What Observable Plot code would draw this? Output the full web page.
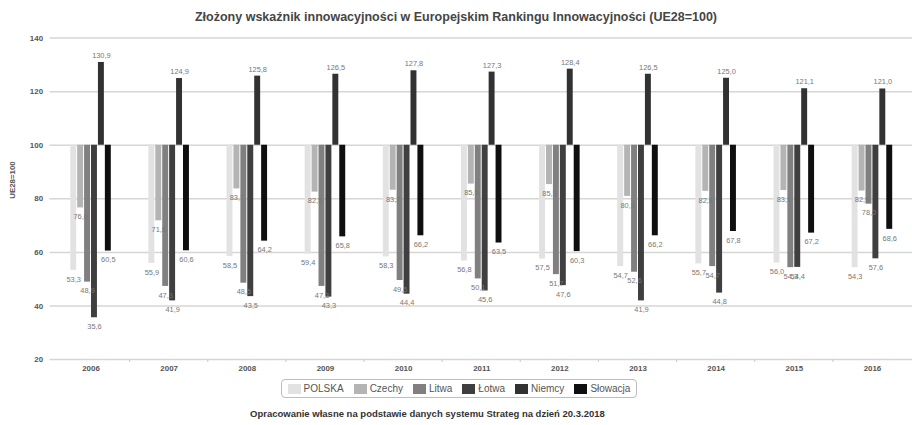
<!DOCTYPE html>
<html lang="pl">
<head>
<meta charset="utf-8">
<script src="https://cdn.jsdelivr.net/npm/d3@7"></script>
<script src="https://cdn.jsdelivr.net/npm/@observablehq/plot@0.6"></script>
<style>
  html, body { margin: 0; padding: 0; background: #fff; overflow: hidden; }
  #chart { position: relative; width: 912px; height: 425px; overflow: hidden; background: #fff;
           font-family: "Liberation Sans", Arial, sans-serif; }
  #title { position: absolute; left: 0; width: 912px; top: 10px; text-align: center;
           font-size: 12.5px; font-weight: bold; color: #454545; white-space: nowrap; }
  #plot { position: absolute; left: 0; top: 0; }
  #legend { position: absolute; left: 281px; top: 379px; width: 356px; height: 19px;
            border: 1px solid #bdbdbd; border-radius: 4px; box-sizing: border-box;
            display: flex; align-items: center; justify-content: center; gap: 10px;
            font-size: 10px; color: #555; }
  #legend .item { display: flex; align-items: center; gap: 3px; }
  #legend .sw { width: 13px; height: 10px; display: inline-block; }
  #caption { position: absolute; left: 250px; top: 408px; font-size: 9.5px; font-weight: bold;
             color: #333; white-space: nowrap; }
</style>
</head>
<body>
<div id="chart">
  <div id="plot"></div>
  <div id="title">Złożony wskaźnik innowacyjności w Europejskim Rankingu Innowacyjności (UE28=100)</div>
  <div id="legend"></div>
  <div id="caption">Opracowanie własne na podstawie danych systemu Strateg na dzień 20.3.2018</div>
</div>
<script>
// Summary Innovation Index, EU28 = 100
const years = [2006, 2007, 2008, 2009, 2010, 2011, 2012, 2013, 2014, 2015, 2016];
const series = ["POLSKA", "Czechy", "Litwa", "Łotwa", "Niemcy", "Słowacja"];

const polska   = [53.3, 55.9, 58.5, 59.4, 58.3, 56.8, 57.5, 54.7, 55.7, 56.0, 54.3];
const czechy   = [76.6, 71.8, 83.7, 82.5, 83.2, 85.5, 85.3, 80.9, 82.8, 83.1, 82.9];
const litwa    = [48.9, 47.3, 48.5, 47.3, 49.5, 50.1, 51.7, 52.6, 54.7, 54.3, 78.0];
const lotwa    = [35.6, 41.9, 43.5, 43.3, 44.4, 45.6, 47.6, 41.9, 44.8, 54.4, 57.6];
const niemcy   = [130.9, 124.9, 125.8, 126.5, 127.8, 127.3, 128.4, 126.5, 125.0, 121.1, 121.0];
const slowacja = [60.5, 60.6, 64.2, 65.8, 66.2, 63.5, 60.3, 66.2, 67.8, 67.2, 68.6];

const yTicks = [20, 40, 60, 80, 100, 120, 140];
const baseline = 100;
const colors = ["#e2e2e2", "#b4b4b4", "#808080", "#3f3f3f", "#323232", "#0f0f0f"];

const values = [polska, czechy, litwa, lotwa, niemcy, slowacja];
const data = [];
series.forEach((s, i) => years.forEach((y, j) => data.push({year: y, series: s, value: values[i][j]})));

const fmt = d => d.value.toFixed(1).replace(".", ",");
const font = "'Liberation Sans', Arial, sans-serif";

// shared frame for both layers
const frame = {width: 922, height: 378, marginLeft: 50, marginRight: 0, marginTop: 38, marginBottom: 15};

// background layer: grid, y labels, year labels
const grid = Plot.plot({
  ...frame,
  style: {fontFamily: font, background: "#fff", overflow: "visible"},
  x: {type: "band", domain: years, padding: 0, axis: null},
  y: {domain: [20, 140], axis: null},
  marks: [
    Plot.ruleY(yTicks, {stroke: "#d6d6d6", strokeWidth: 1.5}),
    Plot.axisY({
      ticks: yTicks, tickSize: 0, tickPadding: 7, label: null,
      fontSize: 8, fontWeight: "bold", fill: "#555"
    }),
    Plot.text(["UE28=100"], {
      frameAnchor: "left", dx: -38, rotate: -90,
      fontSize: 8, fontWeight: "bold", fill: "#555"
    }),
    Plot.axisX({
      anchor: "bottom", tickSize: 0, tickPadding: 6, label: null,
      tickFormat: d => String(d),
      fontSize: 8, fontWeight: "bold", fill: "#555"
    })
  ]
});
document.getElementById("plot").appendChild(grid);

// small ticks on the bottom line between year groups
const xs = grid.scale("x");
const yBottom = grid.scale("y").apply(20);
const gsvg = d3.select(grid);
years.slice(1).forEach(y => {
  const xb = xs.apply(y);
  gsvg.append("line")
    .attr("x1", xb).attr("x2", xb)
    .attr("y1", yBottom).attr("y2", yBottom + 3)
    .attr("stroke", "#cfcfcf").attr("stroke-width", 1.2);
});

// bar layer: one facet per year, bars hanging from the EU28 = 100 baseline
const labelStyle = {fontSize: 7.5, fill: "#777", opacity: 0.99};
const bars = Plot.plot({
  ...frame,
  style: {fontFamily: font, background: "transparent", overflow: "visible"},
  fx: {domain: years, paddingInner: 0.42, paddingOuter: 0.21, axis: null},
  x: {domain: series, paddingInner: 0.2, paddingOuter: 0.1, axis: null},
  y: {domain: [20, 140], axis: null},
  color: {domain: series, range: colors},
  marks: [
    Plot.barY(data, {fx: "year", x: "series", y1: baseline, y2: "value", fill: "series"}),
    Plot.text(data.filter(d => d.value < baseline), {
      fx: "year", x: "series", y: "value", text: fmt, dy: 9, ...labelStyle
    }),
    Plot.text(data.filter(d => d.value >= baseline), {
      fx: "year", x: "series", y: "value", text: fmt, dy: -7, ...labelStyle
    })
  ]
});

// draw the bar layer into the same SVG (same frame and coordinates)
Array.from(bars.children).forEach(node => {
  if (node.tagName.toLowerCase() !== "style") grid.appendChild(node);
});

// legend
const legend = d3.select("#legend");
series.forEach((s, i) => {
  const item = legend.append("div").attr("class", "item");
  item.append("span").attr("class", "sw").style("background", colors[i]);
  item.append("span").text(s);
});
</script>
</body>
</html>
